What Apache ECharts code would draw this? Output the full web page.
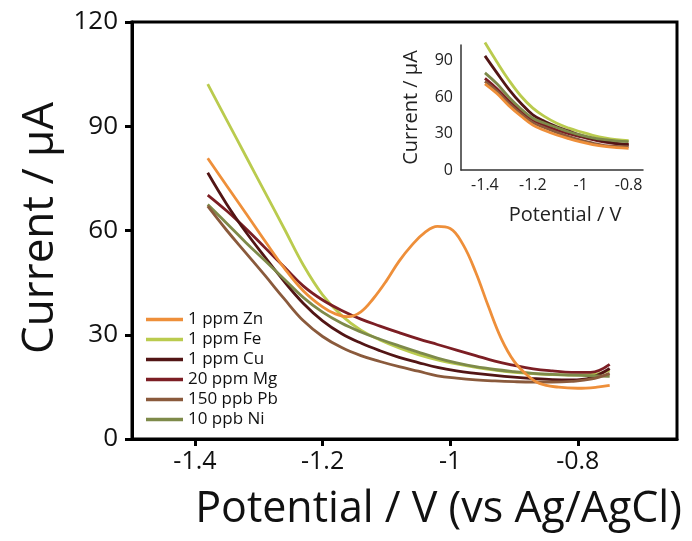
<!DOCTYPE html>
<html>
<head>
<meta charset="utf-8">
<script src="https://cdn.jsdelivr.net/npm/echarts@6/dist/echarts.min.js"></script>
<style>
html,body{margin:0;padding:0;background:#fff;}
#chart{width:692px;height:541px;}
</style>
</head>
<body>
<div id="chart"></div>
<script>
// ---- Data ----
var seriesNames = ['1 ppm Zn', '1 ppm Fe', '1 ppm Cu', '20 ppm Mg', '150 ppb Pb', '10 ppb Ni'];
var seriesColors = ['#EE8F3A', '#BACB4E', '#521515', '#7C1E24', '#8A5A3C', '#7E8A4A'];

// Main plot: potential (V) grid
var mainPotential = [-1.38, -1.35, -1.32, -1.29, -1.26, -1.23, -1.20, -1.17, -1.14, -1.11, -1.08,
                     -1.05, -1.02, -0.99, -0.96, -0.93, -0.90, -0.87, -0.84, -0.81, -0.78, -0.75];
// Zn has a stripping peak, so it is read at a finer potential step
var znPotential = [-1.38, -1.35, -1.32, -1.29, -1.26, -1.23, -1.20, -1.18, -1.16, -1.14, -1.12, -1.10,
                   -1.08, -1.06, -1.04, -1.02, -1.00, -0.98, -0.96, -0.94, -0.92, -0.90, -0.88, -0.86,
                   -0.83, -0.80, -0.77, -0.75];
var mainZn = [80.8, 72.8, 64.9, 56.9, 49.2, 42.6, 38.0, 36.0, 35.2, 36.6, 40.5, 45.5,
              51.2, 55.8, 59.4, 61.2, 60.6, 56.0, 48.0, 38.1, 28.9, 22.4, 18.5, 16.0,
              14.9, 14.6, 14.9, 15.4];
var mainFe = [102.1, 91.7, 81.3, 70.9, 60.5, 50.0, 41.5, 35.5, 31.3, 28.5, 26.2,
              24.3, 22.8, 21.6, 20.6, 19.8, 19.2, 18.8, 18.5, 18.4, 18.5, 19.8];
var mainCu = [76.6, 67.5, 59.5, 52.3, 45.3, 39.0, 34.0, 30.3, 27.6, 25.4, 23.5,
              22.0, 20.6, 19.6, 18.9, 18.3, 17.8, 17.4, 17.1, 17.0, 17.6, 20.3];
var mainMg = [70.2, 65.6, 60.5, 55.0, 49.5, 44.0, 40.0, 37.0, 34.5, 32.5, 30.6,
              28.8, 27.2, 25.6, 24.0, 22.4, 21.2, 20.2, 19.6, 19.2, 19.2, 21.5];
var mainPb = [67.0, 60.0, 53.5, 47.0, 40.3, 34.0, 29.5, 26.3, 24.0, 22.3, 20.8,
              19.5, 18.2, 17.5, 17.0, 16.7, 16.5, 16.4, 16.4, 16.6, 17.2, 18.9];
var mainNi = [67.5, 62.0, 56.5, 51.3, 46.0, 40.7, 36.5, 33.3, 30.8, 28.7, 26.8,
              25.0, 23.3, 21.9, 20.8, 20.0, 19.4, 18.9, 18.6, 18.4, 18.2, 18.0];

// Inset plot
var insetPotential = [-1.4, -1.35, -1.3, -1.25, -1.2, -1.15, -1.1, -1.05, -1.0, -0.95, -0.9, -0.85, -0.8];
var insetZn = [71, 63, 53, 44.5, 37, 32.5, 28.8, 25.8, 23.2, 21, 19.4, 18.5, 17.9];
var insetFe = [105, 89, 74, 61, 51, 44, 38.5, 34.5, 31.4, 28.6, 26.4, 25.0, 24.2];
var insetCu = [94, 80, 66.5, 55, 45.5, 40, 35.7, 32, 28.6, 25.8, 23.6, 22, 20.6];
var insetMg = [75.5, 67, 57, 48.5, 41.2, 36.8, 33, 30, 27.4, 25, 22.9, 21.8, 21];
var insetPb = [73, 65, 55, 46.5, 39, 34.8, 31, 27.6, 24.6, 22.2, 20.1, 19.5, 19.2];
var insetNi = [80, 71, 60, 50.5, 42.6, 38.5, 35, 31.5, 28.7, 26.5, 25, 24, 23.3];

// Tick labels
var xTicks = [-1.4, -1.2, -1, -0.8];
var mainYTicks = [0, 30, 60, 90, 120];
var insetYTicks = [0, 30, 60, 90];

// ---- Build chart ----
function pairs(xs, ys) { return xs.map(function (x, i) { return [x, ys[i]]; }); }

var mainSets = [mainZn, mainFe, mainCu, mainMg, mainPb, mainNi];
var mainXs = [znPotential, mainPotential, mainPotential, mainPotential, mainPotential, mainPotential];
var insetSets = [insetZn, insetFe, insetCu, insetMg, insetPb, insetNi];
var drawOrder = [1, 3, 2, 5, 4, 0]; // Zn drawn last (on top)

var FONT = '"Open Sans", "Noto Sans", sans-serif';
var series = [];
drawOrder.forEach(function (k, j) {
  series.push({
    name: seriesNames[k], type: 'line', xAxisIndex: 0, yAxisIndex: 0,
    data: pairs(mainXs[k], mainSets[k]), smooth: 0.4, symbol: 'none',
    lineStyle: { width: 2.8, color: seriesColors[k] }, itemStyle: { color: seriesColors[k] },
    z: 2 + j, animation: false
  });
});
drawOrder.forEach(function (k, j) {
  series.push({
    name: seriesNames[k], type: 'line', xAxisIndex: 1, yAxisIndex: 1,
    data: pairs(insetPotential, insetSets[k]), smooth: 0.4, symbol: 'none', clip: false,
    lineStyle: { width: 2.8, color: seriesColors[k] }, itemStyle: { color: seriesColors[k] },
    z: 2 + j, animation: false
  });
});

var tickFmt = function (v) { return String(Math.round(v * 10) / 10); };

var option = {
  backgroundColor: '#fff',
  animation: false,
  grid: [
    { left: 132, top: 22, right: 15, bottom: 102, show: true, borderColor: '#000', borderWidth: 3 },
    { left: 461, top: 45, right: 49, bottom: 371 }
  ],
  legend: {
    data: seriesNames, orient: 'vertical', left: 141, top: 306,
    icon: 'rect', itemWidth: 37, itemHeight: 3.5, itemGap: 3,
    textStyle: { fontFamily: FONT, fontSize: 17, color: '#111', lineHeight: 17 },
    selectedMode: false
  },
  xAxis: [
    {
      type: 'value', gridIndex: 0, min: -1.4987, max: -0.6445,
      name: 'Potential / V (vs Ag/AgCl)', nameLocation: 'middle', nameGap: 49,
      nameTextStyle: { fontFamily: FONT, fontSize: 43, color: '#111', padding: [0, 0, 0, 68] },
      axisLine: { lineStyle: { color: '#000', width: 3 } },
      axisTick: { customValues: xTicks, length: 7, lineStyle: { color: '#000', width: 3 } },
      axisLabel: { customValues: xTicks, formatter: tickFmt, margin: 10, fontFamily: FONT, fontSize: 25, color: '#111' },
      splitLine: { show: false }
    },
    {
      type: 'value', gridIndex: 1, min: -1.5, max: -0.74,
      name: 'Potential / V', nameLocation: 'middle', nameGap: 35,
      nameTextStyle: { fontFamily: FONT, fontSize: 20, color: '#222', padding: [0, 0, 0, 26] },
      axisLine: { lineStyle: { color: '#333', width: 1.5 } },
      axisTick: { show: false },
      axisLabel: { customValues: xTicks, formatter: tickFmt, margin: 7, fontFamily: FONT, fontSize: 16, color: '#222' },
      splitLine: { show: false }
    }
  ],
  yAxis: [
    {
      type: 'value', gridIndex: 0, min: 0, max: 120,
      name: 'Current / μA', nameLocation: 'middle', nameGap: 61, nameRotate: 90,
      nameTextStyle: { fontFamily: FONT, fontSize: 44, color: '#111', padding: [0, 0, 0, 5] },
      axisLine: { lineStyle: { color: '#000', width: 3 } },
      axisTick: { customValues: mainYTicks, length: 7, lineStyle: { color: '#000', width: 3 } },
      axisLabel: { customValues: mainYTicks, margin: 14, fontFamily: FONT, fontSize: 26, color: '#111' },
      splitLine: { show: false }
    },
    {
      type: 'value', gridIndex: 1, min: 0, max: 103,
      name: 'Current / μA', nameLocation: 'middle', nameGap: 40, nameRotate: 90,
      nameTextStyle: { fontFamily: FONT, fontSize: 20, color: '#222' },
      axisLine: { lineStyle: { color: '#333', width: 1.5 } },
      axisTick: { show: false },
      axisLabel: { customValues: insetYTicks, margin: 8, fontFamily: FONT, fontSize: 16, color: '#222' },
      splitLine: { show: false }
    }
  ],
  series: series
};

var chart = echarts.init(document.getElementById('chart'), null, { renderer: 'canvas' });
chart.setOption(option);
</script>
</body>
</html>
